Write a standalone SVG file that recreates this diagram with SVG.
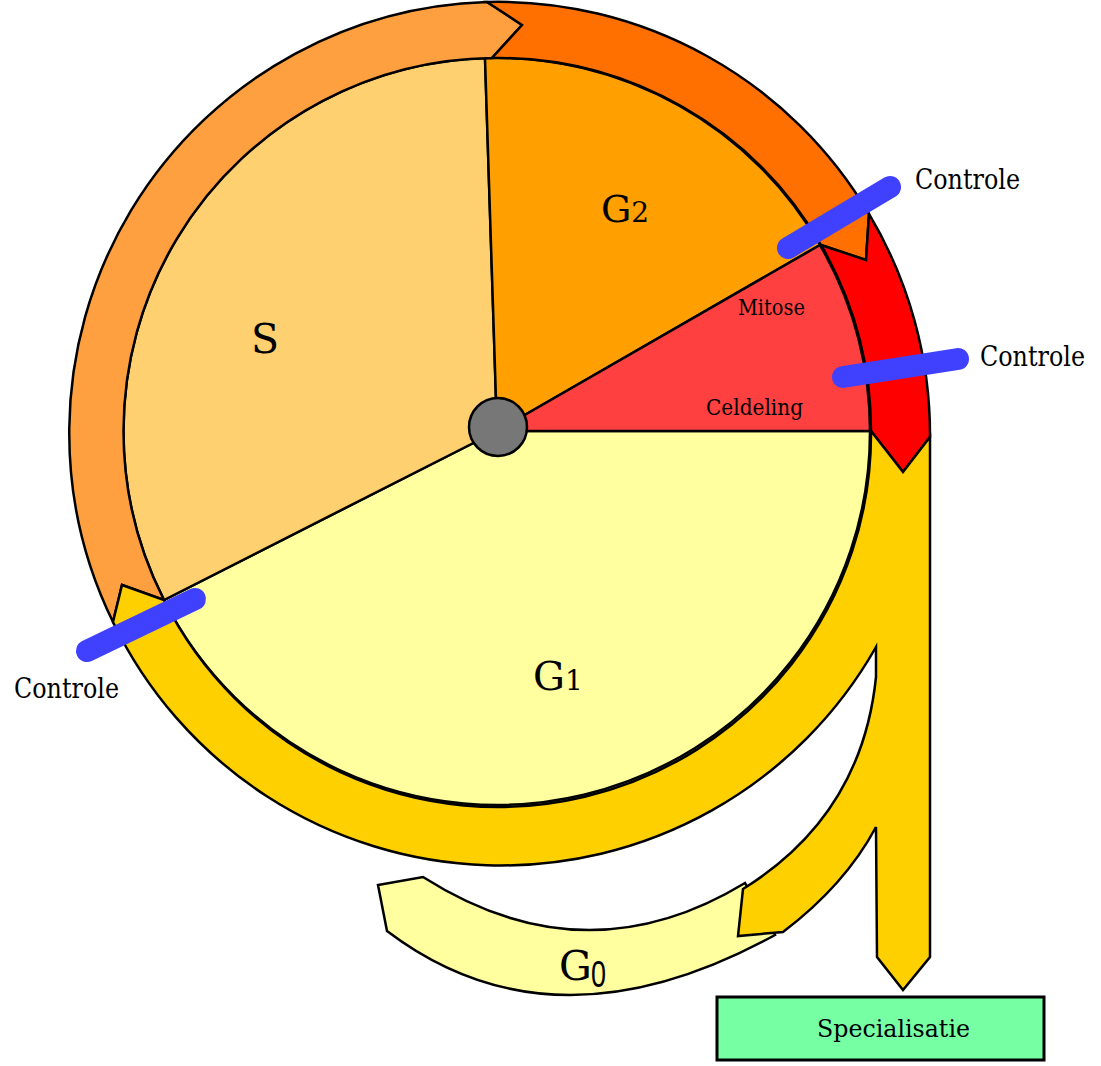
<svg xmlns="http://www.w3.org/2000/svg" width="1101" height="1066" viewBox="0 0 1101 1066">
<style>
.o{stroke:#000;stroke-width:2.5;stroke-linejoin:miter}
.bar{stroke:#4040FF;stroke-width:22;stroke-linecap:round;fill:none}
.t{font-family:"DejaVu Serif","Liberation Serif",serif;fill:#000}
</style>
<rect width="1101" height="1066" fill="#fff"/>
<g id="sectors">
<path id="sector-G1" class="o" fill="#FFFFA0" d="M497,431 L870,431 A373,373 0 0 1 164,600 Z"/>
<path id="sector-S" class="o" fill="#FFD070" d="M497,431 L164,600 A373,373 0 0 1 485,58 Z"/>
<path id="sector-G2" class="o" fill="#FFA000" d="M497,431 L485,58 A373,373 0 0 1 820,245 Z"/>
<path id="sector-M" class="o" fill="#FF4040" d="M497,431 L820,245 A373,373 0 0 1 870,431 Z"/>
</g>
<g id="connectors">
<path id="ring-S" class="o" fill="#FFA040" d="M113,622 A431,431 0 0 1 487,2 L522,25 L492,58 A373,373 0 0 0 164,600 L122,585 Z"/>
<path id="ring-G2" class="o" fill="#FF7000" d="M487,2 A431,431 0 0 1 869,214 L866,260 L821,245 A373,373 0 0 0 492,58 L522,25 Z"/>
<path id="ring-M" class="o" fill="#FF0000" d="M869,214 A431,431 0 0 1 930,437 L903,472 L871,431 A373,373 0 0 0 821,245 L866,260 Z"/>
<path id="arrow-G0" class="o" fill="#FFFFA0" d="M745,883 Q585,980 423,877 L378,885 L387,931 Q553,1057 775,935 Z"/>
<path id="ring-G1" class="o" fill="#FFD000" d="M871,431 L903,472 L930,437 L930,957 L903,990 L877,957 L876,827 Q845,885 783,932 L738,936 L743,889 Q862,815 876,677 L876,647 A431,431 0 0 1 113,622 L122,585 L164,600 A373,373 0 0 0 871,431 Z"/>
</g>
<g id="center">
<circle cx="498" cy="427" r="29" fill="#777777" class="o"/>
</g>
<g id="controls">
<line class="bar" x1="788" y1="248" x2="890" y2="187"/>
<line class="bar" x1="843" y1="377" x2="958" y2="359"/>
<line class="bar" x1="87" y1="651" x2="195" y2="599"/>
</g>
<g id="labels">
<text class="t" x="601" y="222" font-size="38">G<tspan font-size="28">2</tspan></text>
<text class="t" x="251" y="353" font-size="41">S</text>
<text class="t" x="533" y="690" font-size="40">G<tspan font-size="28">1</tspan></text>
<text class="t" x="738" y="315" font-size="22" textLength="67" lengthAdjust="spacingAndGlyphs">Mitose</text>
<text class="t" x="706" y="415" font-size="22" textLength="97" lengthAdjust="spacingAndGlyphs">Celdeling</text>
<text class="t" x="915" y="189" font-size="27" textLength="105" lengthAdjust="spacingAndGlyphs">Controle</text>
<text class="t" x="980" y="366" font-size="27" textLength="105" lengthAdjust="spacingAndGlyphs">Controle</text>
<text class="t" x="14" y="698" font-size="27" textLength="105" lengthAdjust="spacingAndGlyphs">Controle</text>
<text class="t" x="559" y="980" font-size="41">G</text>
<text x="591" y="987" font-size="36" font-family="Liberation Sans, Arial, sans-serif" textLength="15" lengthAdjust="spacingAndGlyphs">0</text>
</g>
<g id="specialisatie">
<rect x="717" y="997" width="327" height="63" fill="#77FFA3" stroke="#000" stroke-width="3"/>
<text class="t" x="817" y="1037" font-size="24" textLength="153" lengthAdjust="spacingAndGlyphs">Specialisatie</text>
</g>
</svg>
